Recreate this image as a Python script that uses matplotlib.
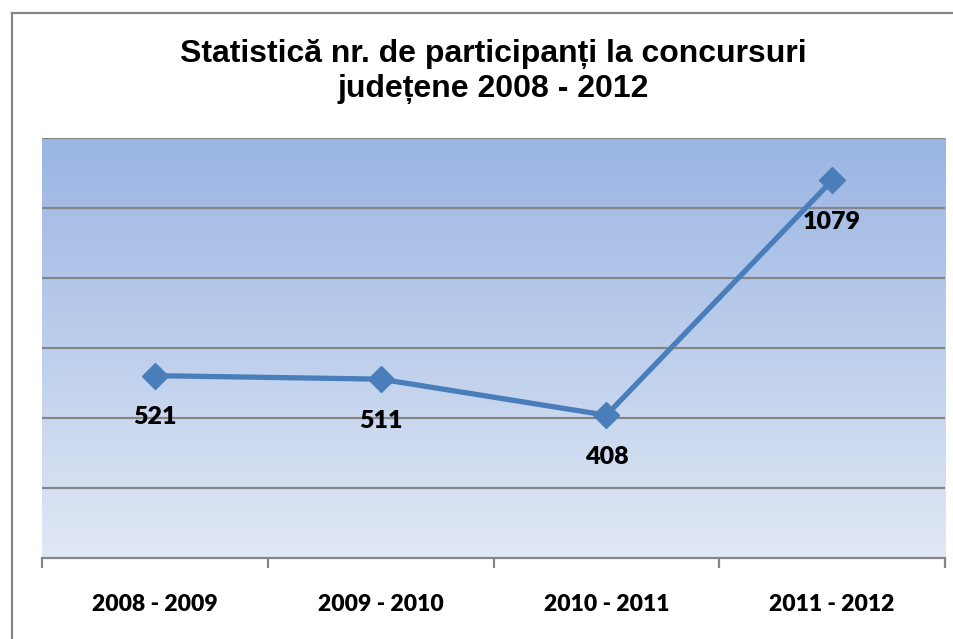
import numpy as np
import matplotlib.pyplot as plt
from matplotlib.colors import LinearSegmentedColormap
from matplotlib.lines import Line2D

categories = ["2008 - 2009", "2009 - 2010", "2010 - 2011", "2011 - 2012"]
participants = [521, 511, 408, 1079]
title = "Statistică nr. de participanți la concursuri\njudețene 2008 - 2012"

fig = plt.figure(figsize=(9.54, 6.39), dpi=100)
ax = fig.add_axes([0.044, 0.1268, 0.9466, 0.6572])

x = np.arange(len(categories))
ax.set_xlim(-0.5, len(categories) - 0.5)
ax.set_ylim(0, 1200)

# gradient background of the plot area
cmap = LinearSegmentedColormap.from_list("bg", ["#e1e8f5", "#9ab5e3"])
grad = np.linspace(0, 1, 256).reshape(-1, 1)
ax.imshow(grad, cmap=cmap, origin="lower", aspect="auto",
          extent=[-0.5, len(categories) - 0.5, 0, 1200], zorder=0)

for y in range(200, 1201, 200):
    ax.axhline(y, color="#868686", lw=1.6, zorder=1)

ax.plot(x, participants, color="#4a7ebb", lw=3.8, marker="D", ms=13,
        zorder=3, solid_capstyle="round")

for xi, v in zip(x, participants):
    ax.annotate(str(v), (xi, v), xytext=(0, -30), textcoords="offset points",
                ha="center", va="center", fontsize=18, fontweight="heavy",
                family="Lato", zorder=4)

for s in ["left", "right", "top"]:
    ax.spines[s].set_visible(False)
ax.spines["bottom"].set_color("#868686")
ax.spines["bottom"].set_linewidth(1.6)
ax.set_yticks([])
ax.set_xticks(np.arange(-0.5, len(categories), 1.0))
ax.set_xticklabels([])
ax.set_xticks(x, minor=True)
ax.set_xticklabels(categories, minor=True, fontsize=16.5, fontweight="heavy",
                   family="Lato")
ax.tick_params(axis="x", which="major", length=7, width=1.6, color="#868686",
               direction="out")
ax.tick_params(axis="x", which="minor", length=0, pad=26)

fig.text(0.517, 0.888, title, ha="center", va="center", fontsize=23,
         fontweight="bold", family="Liberation Sans", linespacing=1.25)

# chart border (left and top edges visible)
fig.add_artist(Line2D([12.5 / 954, 12.5 / 954], [0, 1 - 12.5 / 639],
                      color="#868686", lw=1.6))
fig.add_artist(Line2D([12.5 / 954, 1], [1 - 12.5 / 639, 1 - 12.5 / 639],
                      color="#868686", lw=1.6))

fig.savefig("out.png", dpi=100)
